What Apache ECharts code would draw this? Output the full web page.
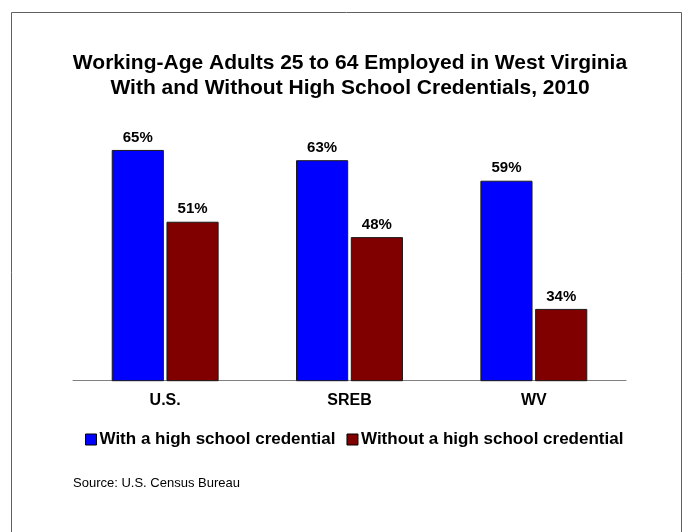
<!DOCTYPE html>
<html>
<head>
<meta charset="utf-8">
<script src="https://cdn.jsdelivr.net/npm/echarts@6/dist/echarts.min.js"></script>
<style>html,body{margin:0;padding:0;background:#fff}#c{width:684px;height:532px}</style>
</head>
<body>
<div id="c"></div>
<script>
const categories = ['U.S.', 'SREB', 'WV'];
const withCredential = [65, 63, 59];
const withoutCredential = [51, 48, 34];
const seriesNames = ['With a high school credential', 'Without a high school credential'];
const titleLines = ['Working-Age Adults 25 to 64 Employed in West Virginia', 'With and Without High School Credentials, 2010'];
const sourceText = 'Source: U.S. Census Bureau';

const FONT = '"Liberation Sans", Arial, sans-serif';
const chart = echarts.init(document.getElementById('c'), null, {renderer: 'canvas'});
const labelOpt = {
  show: true, position: 'top', distance: 5,
  formatter: p => p.value + '%',
  fontFamily: FONT, fontWeight: 'bold', fontSize: 15, color: '#000'
};
chart.setOption({
  backgroundColor: '#fff',
  animation: false,
  legend: {
    data: seriesNames,
    left: 80, top: 426,
    itemWidth: 11, itemHeight: 11, itemGap: 11,
    icon: 'rect',
    itemStyle: {borderColor: '#000', borderWidth: 1},
    textStyle: {fontFamily: FONT, fontWeight: 'bold', fontSize: 17, color: '#000', padding: [0, 0, 0, -2]}
  },
  grid: {left: 73, right: 58, top: 124.3, bottom: 151.3},
  xAxis: {
    type: 'category', data: categories,
    axisLine: {lineStyle: {color: '#808080', width: 1}},
    axisTick: {show: false},
    axisLabel: {fontFamily: FONT, fontWeight: 'bold', fontSize: 16, color: '#000', margin: 12}
  },
  yAxis: {type: 'value', min: 20, max: 70, show: false, splitLine: {show: false}},
  series: [
    {name: seriesNames[0], type: 'bar', data: withCredential, barGap: '5%', barCategoryGap: '42%',
     itemStyle: {color: '#0000FF', borderColor: '#1a1a1a', borderWidth: 1}, label: labelOpt},
    {name: seriesNames[1], type: 'bar', data: withoutCredential,
     itemStyle: {color: '#800000', borderColor: '#1a1a1a', borderWidth: 1}, label: labelOpt}
  ],
  graphic: [
    {type: 'rect', shape: {x: 11.5, y: 12.5, width: 670, height: 540}, style: {fill: null, stroke: '#606060', lineWidth: 1}, silent: true},
    {type: 'text', x: 350, y: 50, silent: true,
     style: {text: titleLines.join('\n'), font: 'bold 21px ' + FONT, lineHeight: 25.5, fill: '#000', align: 'center', verticalAlign: 'top'}},
    {type: 'text', x: 73, y: 477, silent: true,
     style: {text: sourceText, font: '13px ' + FONT, fill: '#000', align: 'left', verticalAlign: 'top'}}
  ]
});
</script>
</body>
</html>
